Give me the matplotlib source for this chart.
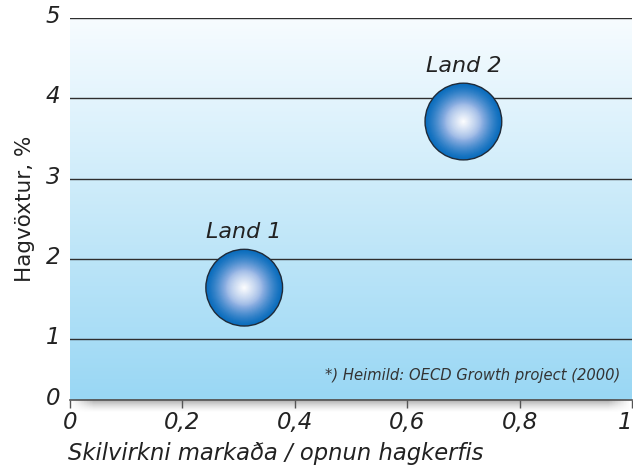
import numpy as np
import matplotlib
matplotlib.use("Agg")
import matplotlib.pyplot as plt
import matplotlib.transforms as mtransforms
from matplotlib.colors import to_rgb

# ---- data ----
countries = ["Land 1", "Land 2"]
efficiency = [0.31, 0.70]      # Skilvirkni markaða / opnun hagkerfis
growth = [1.64, 3.71]          # Hagvöxtur, %
x_ticks = [0, 0.2, 0.4, 0.6, 0.8, 1]
x_tick_labels = ["0", "0,2", "0,4", "0,6", "0,8", "1"]
y_ticks = [0, 1, 2, 3, 4, 5]
y_tick_labels = ["0", "1", "2", "3", "4", "5"]
x_label = "Skilvirkni markaða / opnun hagkerfis"
y_label = "Hagvöxtur, %"
source_note = "*) Heimild: OECD Growth project (2000)"

plt.rcParams['font.family'] = ['DejaVu Sans']

fig = plt.figure(figsize=(6.33, 4.70), dpi=100)
ax = fig.add_axes([70/633, 1-400/470, 562/633, 382/470])

# piecewise scale: first unit is drawn shorter than the others (as in reference)
a = 61/80.3
def fwd(y):
    y = np.asarray(y, dtype=float)
    return np.where(y < 1, y*a, a + (y-1))
def inv(t):
    t = np.asarray(t, dtype=float)
    return np.where(t < a, t/a, t - a + 1)
ax.set_yscale('function', functions=(fwd, inv))
ax.set_xlim(0, 1)
ax.set_ylim(0, 5)

# background gradient
top = np.array(to_rgb("#f7fcff"))
bot = np.array(to_rgb("#99d7f4"))
tt = np.linspace(0, 1, 256)[:, None]
grad = (top[None, :]*(1-tt) + bot[None, :]*tt)[:, None, :]
ax.imshow(grad, extent=(0, 1, 0, 1), transform=ax.transAxes, aspect='auto', zorder=0)

# shadow under the x axis
sh = np.zeros((40, 200, 4))
vy = np.linspace(0, 1, 40)[:, None]
hx = np.linspace(0, 1, 200)[None, :]
edge = np.clip(np.minimum(hx, 1-hx)/0.04, 0, 1)
sh[..., 0:3] = 0.35
sh[..., 3] = 0.55*(1-vy)**1.6*edge
ax.imshow(sh, extent=(0, 1, -0.035, 0), transform=ax.transAxes, aspect='auto',
          zorder=0, clip_on=False)

# grid lines
for yv in y_ticks[1:]:
    ax.axhline(yv, color="#2e2e2e", lw=1.0, zorder=1)

# bubbles with radial gradient
edge_c = np.array(to_rgb("#0a6dbd"))
mid_c = np.array(to_rgb("#8fb0e2"))
cen_c = np.array(to_rgb("#ffffff"))
S = 3050
n = 40
for i in range(n):
    r = 1 - i/n
    if r > 0.5:
        f = (1-r)/0.5
        c = edge_c*(1-f**1.3) + mid_c*f**1.3
    else:
        f = (0.5-r)/0.5
        c = mid_c*(1-f**0.8) + cen_c*f**0.8
    ax.scatter(efficiency, growth, s=S*r*r, color=c, edgecolors='none', zorder=3+i*0.001)
ax.scatter(efficiency, growth, s=S, facecolors='none', edgecolors="#1f2a38", linewidths=1.0, zorder=4)

for name, xv, yv in zip(countries, efficiency, growth):
    ax.annotate(name, (xv, yv), xytext=(0, 40), textcoords='offset points',
                ha='center', va='center', fontsize=16, style='italic', color="#222222", zorder=5)

ax.text(0.979, 0.065, source_note, transform=ax.transAxes, ha='right', va='center',
        fontsize=10.6, style='italic', color="#333333", zorder=5)

# axes styling
for s in ['top', 'right', 'left']:
    ax.spines[s].set_visible(False)
ax.spines['bottom'].set_color("#555555")
ax.spines['bottom'].set_linewidth(1.2)
ax.set_xticks(x_ticks)
ax.set_xticklabels(x_tick_labels, fontsize=16.5, style='italic', color="#222222")
ax.set_yticks(y_ticks)
ax.set_yticklabels(y_tick_labels, fontsize=16.5, style='italic', color="#222222")
ax.yaxis.set_minor_locator(matplotlib.ticker.NullLocator())
ax.tick_params(axis='x', direction='out', length=6, width=1, color="#555555", pad=2)
ax.tick_params(axis='y', length=0, pad=7)
ax.get_xticklabels()[-1].set_horizontalalignment('right')
up = mtransforms.ScaledTranslation(0, 4/100, fig.dpi_scale_trans)
for lbl in ax.get_yticklabels():
    lbl.set_transform(lbl.get_transform() + up)

ax.set_xlabel(x_label, fontsize=16.3, style='italic', color="#222222", labelpad=8)
ax.xaxis.set_label_coords(-0.004, -0.11)
ax.xaxis.label.set_horizontalalignment('left')
ax.set_ylabel(y_label, fontsize=15.5, color="#222222", labelpad=8)

fig.savefig("out.png", dpi=100)
